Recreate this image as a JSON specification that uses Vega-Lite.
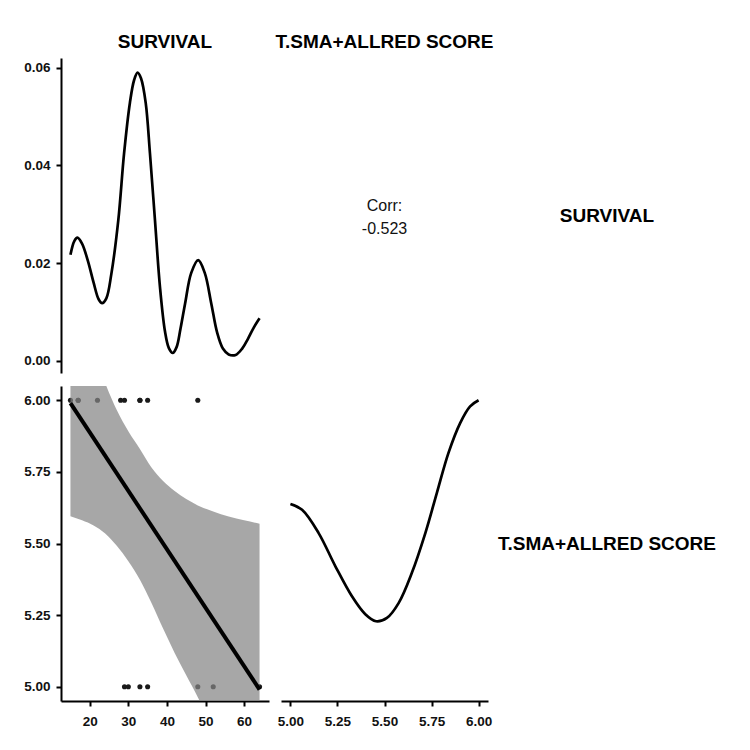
{
  "$schema": "https://vega.github.io/schema/vega-lite/v6.json",
  "padding": {"left": 23, "top": 33, "right": 5, "bottom": 5},
  "background": "white",
  "columns": 3,
  "spacing": {"row": 13, "column": 12},
  "bounds": "flush",
  "align": "each",
  "datasets": {
    "survival_density": [
      {"survival": 15, "density": 0.0217},
      {"survival": 16, "density": 0.0245},
      {"survival": 16.8, "density": 0.0252},
      {"survival": 18, "density": 0.024},
      {"survival": 19.5, "density": 0.0205},
      {"survival": 21, "density": 0.016},
      {"survival": 22.3, "density": 0.0126},
      {"survival": 23.2, "density": 0.0118},
      {"survival": 24.3, "density": 0.0128},
      {"survival": 25.6, "density": 0.0178},
      {"survival": 27.4, "density": 0.0288},
      {"survival": 28.9, "density": 0.0425},
      {"survival": 30.4, "density": 0.0528},
      {"survival": 31.5, "density": 0.0575},
      {"survival": 32.4, "density": 0.059},
      {"survival": 33.3, "density": 0.0578},
      {"survival": 34.5, "density": 0.0528},
      {"survival": 35.6, "density": 0.0425},
      {"survival": 36.9, "density": 0.0288},
      {"survival": 38.2, "density": 0.0151},
      {"survival": 39.5, "density": 0.006},
      {"survival": 40.5, "density": 0.0026},
      {"survival": 41.5, "density": 0.0016},
      {"survival": 42.5, "density": 0.0028},
      {"survival": 43.5, "density": 0.0065},
      {"survival": 44.7, "density": 0.0117},
      {"survival": 46.3, "density": 0.018},
      {"survival": 48.1, "density": 0.0206},
      {"survival": 49.8, "density": 0.018},
      {"survival": 51.5, "density": 0.0117},
      {"survival": 53, "density": 0.0058},
      {"survival": 54.5, "density": 0.0025},
      {"survival": 56, "density": 0.0013},
      {"survival": 57.8, "density": 0.0012},
      {"survival": 59.5, "density": 0.0025},
      {"survival": 61, "density": 0.0045},
      {"survival": 62.5, "density": 0.0068},
      {"survival": 64, "density": 0.0087}
    ],
    "score_density": [
      {"score": 5.0, "density": 0.813},
      {"score": 5.062, "density": 0.789},
      {"score": 5.15, "density": 0.693},
      {"score": 5.239, "density": 0.556},
      {"score": 5.327, "density": 0.432},
      {"score": 5.398, "density": 0.358},
      {"score": 5.455, "density": 0.329},
      {"score": 5.513, "density": 0.343},
      {"score": 5.575, "density": 0.404},
      {"score": 5.645, "density": 0.528},
      {"score": 5.717, "density": 0.693},
      {"score": 5.778, "density": 0.858},
      {"score": 5.84, "density": 1.024},
      {"score": 5.902, "density": 1.147},
      {"score": 5.955, "density": 1.216},
      {"score": 6.0, "density": 1.241}
    ],
    "points": [
      {"survival": 15, "score": 6},
      {"survival": 17, "score": 6},
      {"survival": 17, "score": 6},
      {"survival": 22, "score": 6},
      {"survival": 28, "score": 6},
      {"survival": 29, "score": 6},
      {"survival": 33, "score": 6},
      {"survival": 33, "score": 6},
      {"survival": 35, "score": 6},
      {"survival": 48, "score": 6},
      {"survival": 29, "score": 5},
      {"survival": 30, "score": 5},
      {"survival": 33, "score": 5},
      {"survival": 35, "score": 5},
      {"survival": 48, "score": 5},
      {"survival": 52, "score": 5},
      {"survival": 64, "score": 5}
    ],
    "band": [
      {"survival": 15, "lower": 5.595, "upper": 6.385},
      {"survival": 18, "lower": 5.581, "upper": 6.28},
      {"survival": 21, "lower": 5.563, "upper": 6.17},
      {"survival": 24, "lower": 5.535, "upper": 6.06},
      {"survival": 27, "lower": 5.492, "upper": 5.966},
      {"survival": 30, "lower": 5.438, "upper": 5.892},
      {"survival": 33, "lower": 5.373, "upper": 5.83},
      {"survival": 36, "lower": 5.292, "upper": 5.765},
      {"survival": 39, "lower": 5.203, "upper": 5.718},
      {"survival": 42, "lower": 5.118, "upper": 5.683},
      {"survival": 45, "lower": 5.04, "upper": 5.655},
      {"survival": 48, "lower": 4.963, "upper": 5.633},
      {"survival": 52, "lower": 4.84, "upper": 5.612},
      {"survival": 56, "lower": 4.69, "upper": 5.594},
      {"survival": 60, "lower": 4.55, "upper": 5.581},
      {"survival": 64, "lower": 4.41, "upper": 5.569}
    ],
    "fit": [
      {"survival": 15, "score": 5.99},
      {"survival": 64, "score": 4.99}
    ]
  },
  "concat": [
    {
      "width": 208, "height": 6,
      "data": {"values": [{"label": "SURVIVAL"}]},
      "mark": {"type": "text", "font": "Liberation Sans", "fontWeight": "bold", "fontSize": 19, "color": "#000"},
      "encoding": {"text": {"field": "label", "type": "nominal"}}
    },
    {
      "width": 207, "height": 6,
      "data": {"values": [{"label": "T.SMA+ALLRED SCORE"}]},
      "mark": {"type": "text", "font": "Liberation Sans", "fontWeight": "bold", "fontSize": 19, "color": "#000"},
      "encoding": {"text": {"field": "label", "type": "nominal"}}
    },
    {
      "width": 214, "height": 6,
      "data": {"values": [{"label": ""}]},
      "mark": {"type": "text", "fontSize": 18},
      "encoding": {"text": {"field": "label", "type": "nominal"}}
    },
    {
      "width": 208, "height": 315,
      "data": {"name": "survival_density"},
      "mark": {"type": "line", "color": "#000", "strokeWidth": 2.7, "interpolate": "catmull-rom"},
      "encoding": {
        "x": {"field": "survival", "type": "quantitative", "scale": {"domain": [12.55, 66.45], "nice": false, "zero": false}, "axis": null},
        "y": {"field": "density", "type": "quantitative", "scale": {"domain": [-0.0025, 0.062], "nice": false, "zero": false}, "axis": {"values": [0, 0.02, 0.04, 0.06], "format": ".2f", "title": null}}
      }
    },
    {
      "width": 207, "height": 315,
      "data": {"values": [{"label": "Corr:\n-0.523"}]},
      "mark": {"type": "text", "font": "Liberation Sans", "fontSize": 16, "lineBreak": "\n", "lineHeight": 23, "dy": -10, "color": "#111"},
      "encoding": {"text": {"field": "label", "type": "nominal"}}
    },
    {
      "width": 214, "height": 315,
      "data": {"values": [{"label": "SURVIVAL"}]},
      "mark": {"type": "text", "font": "Liberation Sans", "fontWeight": "bold", "fontSize": 19, "color": "#000"},
      "encoding": {"text": {"field": "label", "type": "nominal"}}
    },
    {
      "width": 208, "height": 315,
      "encoding": {
        "x": {"field": "survival", "type": "quantitative", "scale": {"domain": [12.55, 66.45], "nice": false, "zero": false}, "axis": {"values": [20, 30, 40, 50, 60], "title": null, "labelPadding": 8}}
      },
      "layer": [
        {
          "data": {"name": "points"},
          "mark": {"type": "point", "filled": true, "color": "#1a1a1a", "size": 26, "opacity": 1},
          "encoding": {
            "y": {"field": "score", "type": "quantitative", "scale": {"domain": [4.95, 6.05], "nice": false, "zero": false}, "axis": {"values": [5, 5.25, 5.5, 5.75, 6], "format": ".2f", "title": null}}
          }
        },
        {
          "data": {"name": "band"},
          "mark": {"type": "area", "color": "#858585", "opacity": 0.72, "clip": true, "interpolate": "monotone"},
          "encoding": {
            "y": {"field": "lower", "type": "quantitative"},
            "y2": {"field": "upper"}
          }
        },
        {
          "data": {"name": "fit"},
          "mark": {"type": "line", "color": "#000", "strokeWidth": 4, "clip": true},
          "encoding": {
            "y": {"field": "score", "type": "quantitative"}
          }
        }
      ]
    },
    {
      "width": 207, "height": 315,
      "data": {"name": "score_density"},
      "mark": {"type": "line", "color": "#000", "strokeWidth": 2.7, "interpolate": "catmull-rom"},
      "encoding": {
        "x": {"field": "score", "type": "quantitative", "scale": {"domain": [4.95, 6.05], "nice": false, "zero": false}, "axis": {"values": [5, 5.25, 5.5, 5.75, 6], "format": ".2f", "title": null, "labelPadding": 8}},
        "y": {"field": "density", "type": "quantitative", "scale": {"domain": [0, 1.3], "nice": false, "zero": false}, "axis": null}
      }
    },
    {
      "width": 214, "height": 315,
      "data": {"values": [{"label": "T.SMA+ALLRED SCORE"}]},
      "mark": {"type": "text", "font": "Liberation Sans", "fontWeight": "bold", "fontSize": 19, "color": "#000"},
      "encoding": {"text": {"field": "label", "type": "nominal"}}
    }
  ],
  "config": {
    "font": "Liberation Sans",
    "view": {"stroke": null},
    "axis": {
      "grid": false,
      "domainColor": "#000",
      "domainWidth": 2,
      "tickColor": "#000",
      "tickWidth": 2,
      "tickSize": 5,
      "labelFont": "Liberation Sans",
      "labelFontWeight": "bold",
      "labelFontSize": 13.5,
      "labelColor": "#111",
      "labelPadding": 6,
      "labelFlush": false
    }
  }
}
